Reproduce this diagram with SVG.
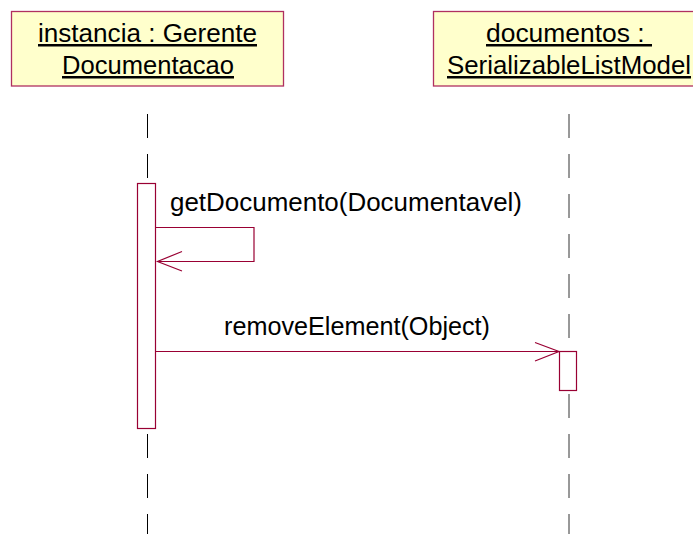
<svg xmlns="http://www.w3.org/2000/svg" width="693" height="534" viewBox="0 0 693 534">
<style>
.obj{fill:#ffffcc;stroke:#b03060;stroke-width:1.3}
.lbl{font-family:"Liberation Sans",Arial,sans-serif;font-size:25px;fill:#000;text-anchor:middle;text-decoration:underline;white-space:pre}
.msg{font-family:"Liberation Sans",Arial,sans-serif;font-size:25.5px;fill:#000}
.life{stroke:#000;stroke-width:1;stroke-dasharray:24 16}
.act{fill:#fff;stroke:#990033;stroke-width:1.2}
.con{fill:none;stroke:#990033;stroke-width:1.2}
</style>
<rect width="693" height="534" fill="#fff"/>
<g id="lifelines">
<line class="life" x1="147.5" y1="114" x2="147.5" y2="534"/>
<line class="life" x1="569" y1="114" x2="569" y2="534" style="stroke:#333"/>
</g>
<g id="instancia">
<rect class="obj" x="11.5" y="11.5" width="272" height="74.5"/>
<text class="lbl" x="147.5" y="42" textLength="219" lengthAdjust="spacingAndGlyphs">instancia : Gerente</text>
<text class="lbl" x="148" y="74" textLength="172" lengthAdjust="spacingAndGlyphs">Documentacao</text>
</g>
<g id="documentos">
<rect class="obj" x="433.5" y="11.5" width="272" height="74.5"/>
<text class="lbl" x="569" y="42" textLength="166" lengthAdjust="spacingAndGlyphs">documentos : </text>
<text class="lbl" x="569" y="74" textLength="244" lengthAdjust="spacingAndGlyphs">SerializableListModel</text>
</g>
<g id="activation1">
<rect class="act" x="137.5" y="183.5" width="18" height="245"/>
</g>
<g id="activation2">
<rect class="act" x="559.5" y="351.5" width="17" height="39"/>
</g>
<g id="connectors">
<polyline class="con" points="155.5,227.5 254,227.5 254,261.5 157.5,261.5"/>
<polyline class="con" points="182,251.5 157.5,261.5 182,271"/>
<line class="con" x1="155.5" y1="351.5" x2="559" y2="351.5"/>
<polyline class="con" points="535,342.5 559,351.5 535,361"/>
<text class="msg" x="170" y="211" textLength="352" lengthAdjust="spacingAndGlyphs">getDocumento(Documentavel)</text>
<text class="msg" x="224" y="335" textLength="266" lengthAdjust="spacingAndGlyphs">removeElement(Object)</text>
</g>
</svg>
